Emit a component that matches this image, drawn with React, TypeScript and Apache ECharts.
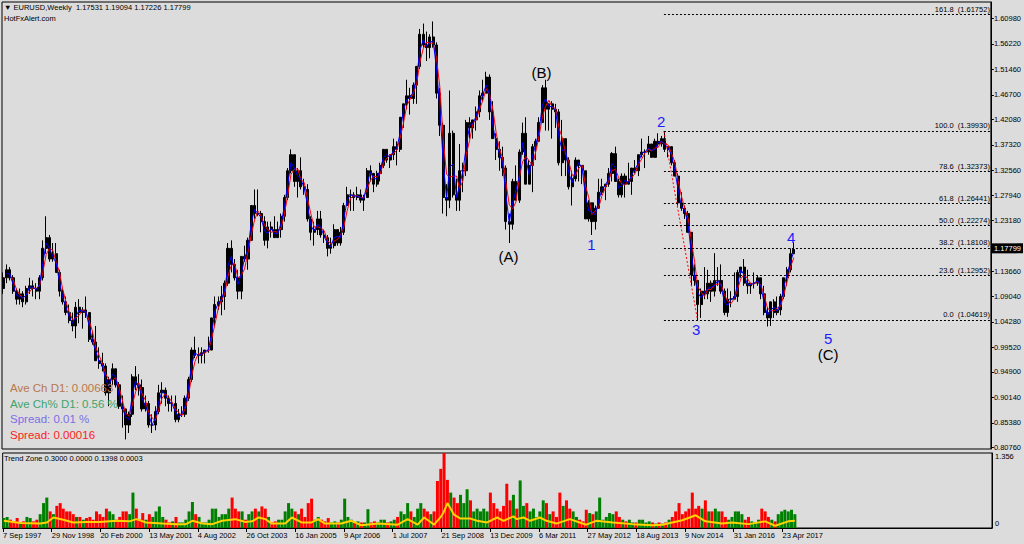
import React, { useEffect, useRef } from 'react';
import * as echarts from 'echarts';

// ---------- data ----------
const START_YEAR = 1997;
const START_MONTH = 9; // first candle: September 1997 (monthly sampling of the weekly chart)
const FIRST_OPEN = 1.105;

const HIGHS = [
  1.135, 1.150, 1.145, 1.130,
  1.105, 1.105, 1.100, 1.110, 1.125, 1.120, 1.115, 1.130, 1.195, 1.240, 1.205, 1.190,
  1.190, 1.140, 1.105, 1.090, 1.075, 1.060, 1.080, 1.085, 1.070, 1.090, 1.060, 1.025,
  1.035, 0.995, 0.985, 0.965, 0.940, 0.965, 0.955, 0.930, 0.905, 0.880, 0.875, 0.945,
  0.960, 0.945, 0.935, 0.905, 0.895, 0.870, 0.885, 0.925, 0.930, 0.920, 0.905, 0.905,
  0.905, 0.880, 0.885, 0.905, 0.940, 0.995, 1.015, 0.995, 0.995, 0.990, 1.015, 1.050,
  1.090, 1.090, 1.110, 1.120, 1.190, 1.195, 1.160, 1.140, 1.165, 1.185, 1.200, 1.260,
  1.290, 1.290, 1.250, 1.240, 1.230, 1.230, 1.240, 1.230, 1.245, 1.280, 1.330, 1.365,
  1.355, 1.330, 1.350, 1.310, 1.300, 1.240, 1.230, 1.250, 1.250, 1.215, 1.205, 1.200,
  1.225, 1.215, 1.220, 1.265, 1.295, 1.290, 1.285, 1.295, 1.290, 1.280, 1.330, 1.335,
  1.320, 1.325, 1.340, 1.365, 1.365, 1.355, 1.385, 1.380, 1.425, 1.450, 1.495, 1.480,
  1.490, 1.520, 1.590, 1.600, 1.585, 1.580, 1.604, 1.565, 1.480, 1.415, 1.300, 1.475,
  1.400, 1.310, 1.375, 1.340, 1.420, 1.425, 1.420, 1.445, 1.475, 1.495, 1.510, 1.505,
  1.455, 1.395, 1.380, 1.370, 1.335, 1.245, 1.310, 1.335, 1.365, 1.415, 1.425, 1.345,
  1.375, 1.385, 1.425, 1.485, 1.495, 1.450, 1.455, 1.450, 1.440, 1.420, 1.385, 1.350,
  1.325, 1.350, 1.345, 1.335, 1.325, 1.270, 1.265, 1.260, 1.310, 1.310, 1.300, 1.330,
  1.360, 1.370, 1.310, 1.320, 1.320, 1.340, 1.330, 1.345, 1.355, 1.385, 1.365, 1.390,
  1.375, 1.385, 1.395, 1.390, 1.3993, 1.370, 1.370, 1.345, 1.320, 1.285, 1.260, 1.250,
  1.210, 1.150, 1.120, 1.105, 1.145, 1.140, 1.120, 1.171, 1.145, 1.150, 1.105, 1.105,
  1.100, 1.135, 1.140, 1.145, 1.160, 1.140, 1.115, 1.135, 1.130, 1.125, 1.110, 1.070,
  1.080, 1.085, 1.090, 1.095, 1.125, 1.145, 1.180, 1.191,
];

const LOWS = [
  1.095, 1.115, 1.120, 1.095,
  1.075, 1.075, 1.070, 1.075, 1.095, 1.090, 1.085, 1.085, 1.120, 1.170, 1.155, 1.155,
  1.135, 1.090, 1.075, 1.055, 1.040, 1.025, 1.012, 1.040, 1.030, 1.050, 1.005, 1.000,
  0.970, 0.955, 0.950, 0.905, 0.885, 0.925, 0.920, 0.880, 0.845, 0.823, 0.835, 0.865,
  0.915, 0.905, 0.875, 0.875, 0.845, 0.835, 0.840, 0.870, 0.890, 0.885, 0.875, 0.875,
  0.855, 0.855, 0.865, 0.865, 0.895, 0.930, 0.975, 0.965, 0.965, 0.965, 0.985, 0.990,
  1.035, 1.065, 1.055, 1.065, 1.110, 1.135, 1.120, 1.085, 1.085, 1.155, 1.140, 1.195,
  1.235, 1.240, 1.210, 1.185, 1.180, 1.200, 1.200, 1.200, 1.200, 1.230, 1.270, 1.320,
  1.295, 1.275, 1.290, 1.280, 1.230, 1.195, 1.185, 1.205, 1.200, 1.190, 1.165, 1.170,
  1.180, 1.185, 1.185, 1.205, 1.260, 1.250, 1.250, 1.270, 1.265, 1.250, 1.275, 1.305,
  1.285, 1.295, 1.305, 1.330, 1.340, 1.330, 1.345, 1.335, 1.360, 1.405, 1.440, 1.430,
  1.450, 1.450, 1.515, 1.555, 1.530, 1.535, 1.555, 1.460, 1.390, 1.245, 1.240, 1.255,
  1.275, 1.250, 1.250, 1.285, 1.315, 1.385, 1.385, 1.400, 1.425, 1.455, 1.470, 1.420,
  1.385, 1.345, 1.325, 1.315, 1.215, 1.190, 1.215, 1.270, 1.265, 1.355, 1.300, 1.300,
  1.285, 1.345, 1.380, 1.415, 1.400, 1.400, 1.385, 1.405, 1.335, 1.315, 1.315, 1.290,
  1.260, 1.305, 1.305, 1.300, 1.235, 1.230, 1.205, 1.215, 1.255, 1.280, 1.270, 1.295,
  1.305, 1.305, 1.275, 1.275, 1.275, 1.305, 1.280, 1.320, 1.315, 1.350, 1.330, 1.355,
  1.350, 1.350, 1.370, 1.370, 1.360, 1.350, 1.335, 1.315, 1.260, 1.250, 1.235, 1.210,
  1.110, 1.110, 1.0462, 1.050, 1.085, 1.085, 1.080, 1.090, 1.110, 1.095, 1.055, 1.052,
  1.070, 1.085, 1.080, 1.125, 1.110, 1.095, 1.095, 1.105, 1.110, 1.085, 1.055, 1.034,
  1.035, 1.050, 1.055, 1.055, 1.085, 1.110, 1.135, 1.170,
];

const CLOSES = [
  1.125, 1.140, 1.125, 1.100,
  1.085, 1.095, 1.080, 1.105, 1.110, 1.105, 1.100, 1.125, 1.180, 1.200, 1.160, 1.170,
  1.135, 1.100, 1.080, 1.060, 1.045, 1.035, 1.070, 1.060, 1.065, 1.060, 1.010, 1.005,
  0.970, 0.965, 0.960, 0.910, 0.935, 0.955, 0.925, 0.885, 0.880, 0.850, 0.870, 0.940,
  0.925, 0.920, 0.880, 0.890, 0.850, 0.850, 0.875, 0.910, 0.915, 0.900, 0.890, 0.890,
  0.860, 0.870, 0.870, 0.900, 0.935, 0.990, 0.980, 0.980, 0.985, 0.990, 0.990, 1.050,
  1.075, 1.080, 1.090, 1.115, 1.180, 1.150, 1.125, 1.100, 1.165, 1.160, 1.195, 1.260,
  1.245, 1.245, 1.230, 1.195, 1.220, 1.215, 1.200, 1.215, 1.240, 1.275, 1.325, 1.355,
  1.305, 1.325, 1.295, 1.290, 1.235, 1.210, 1.215, 1.235, 1.205, 1.200, 1.180, 1.185,
  1.215, 1.190, 1.210, 1.260, 1.280, 1.280, 1.275, 1.280, 1.270, 1.275, 1.325, 1.320,
  1.300, 1.320, 1.335, 1.365, 1.345, 1.355, 1.370, 1.365, 1.425, 1.450, 1.465, 1.460,
  1.485, 1.520, 1.580, 1.560, 1.555, 1.575, 1.560, 1.470, 1.410, 1.275, 1.270, 1.395,
  1.280, 1.270, 1.325, 1.325, 1.415, 1.405, 1.420, 1.435, 1.465, 1.470, 1.500, 1.435,
  1.385, 1.365, 1.350, 1.330, 1.230, 1.225, 1.305, 1.270, 1.360, 1.395, 1.300, 1.335,
  1.370, 1.380, 1.415, 1.480, 1.440, 1.450, 1.440, 1.435, 1.340, 1.385, 1.345, 1.295,
  1.310, 1.345, 1.335, 1.325, 1.235, 1.265, 1.230, 1.255, 1.285, 1.295, 1.300, 1.320,
  1.357, 1.305, 1.280, 1.315, 1.300, 1.305, 1.330, 1.325, 1.355, 1.360, 1.360, 1.375,
  1.350, 1.380, 1.375, 1.385, 1.365, 1.370, 1.340, 1.315, 1.265, 1.255, 1.245, 1.210,
  1.130, 1.120, 1.075, 1.100, 1.095, 1.115, 1.100, 1.120, 1.120, 1.100, 1.060, 1.085,
  1.085, 1.090, 1.135, 1.145, 1.115, 1.110, 1.115, 1.115, 1.125, 1.095, 1.060, 1.050,
  1.080, 1.060, 1.065, 1.090, 1.125, 1.140, 1.170, 1.178,
];

// "Trend Zone" histogram, one value per month
const TREND_ZONE = [
  0.18, 0.20, 0.15, 0.12, 0.18, 0.10, 0.12, 0.20, 0.18, 0.12,
  0.15, 0.25, 0.45, 0.55, 0.30, 0.25, 0.40, 0.45, 0.35, 0.30,
  0.30, 0.25, 0.20, 0.20, 0.15, 0.18, 0.20, 0.15, 0.30, 0.25,
  0.20, 0.35, 0.30, 0.25, 0.15, 0.20, 0.30, 0.30, 0.25, 0.64,
  0.35, 0.15, 0.27, 0.15, 0.25, 0.20, 0.30, 0.39, 0.20, 0.15,
  0.10, 0.12, 0.20, 0.10, 0.10, 0.15, 0.30, 0.47, 0.25, 0.20,
  0.10, 0.10, 0.15, 0.35, 0.35, 0.20, 0.25, 0.25, 0.35, 0.55,
  0.35, 0.30, 0.30, 0.15, 0.25, 0.30, 0.35, 0.30, 0.39, 0.35,
  0.20, 0.10, 0.12, 0.15, 0.15, 0.30, 0.45, 0.35, 0.30, 0.25,
  0.35, 0.20, 0.45, 0.53, 0.15, 0.20, 0.15, 0.12, 0.18, 0.10,
  0.12, 0.10, 0.15, 0.53, 0.20, 0.15, 0.10, 0.12, 0.10, 0.10,
  0.34, 0.10, 0.12, 0.10, 0.15, 0.15, 0.10, 0.12, 0.15, 0.20,
  0.30, 0.25, 0.45, 0.30, 0.20, 0.35, 0.45, 0.35, 0.30, 0.25,
  0.30, 0.85, 1.07, 1.356, 0.87, 0.64, 0.55, 0.45, 0.60, 0.45,
  0.70, 0.50, 0.30, 0.35, 0.30, 0.35, 0.30, 0.64, 0.45, 0.35,
  0.30, 0.40, 0.80, 0.50, 0.60, 0.35, 0.86, 0.40, 0.45, 0.30,
  0.35, 0.20, 0.30, 0.50, 0.45, 0.25, 0.30, 0.20, 0.64, 0.40,
  0.50, 0.35, 0.30, 0.20, 0.15, 0.12, 0.33, 0.27, 0.25, 0.30,
  0.55, 0.15, 0.20, 0.27, 0.25, 0.30, 0.20, 0.15, 0.12, 0.15,
  0.10, 0.10, 0.15, 0.15, 0.10, 0.12, 0.10, 0.08, 0.10, 0.08,
  0.10, 0.15, 0.20, 0.30, 0.45, 0.25, 0.30, 0.35, 0.64, 0.35,
  0.40, 0.35, 0.50, 0.30, 0.30, 0.35, 0.30, 0.30, 0.20, 0.15,
  0.20, 0.30, 0.30, 0.25, 0.15, 0.20, 0.12, 0.10, 0.15, 0.35,
  0.30, 0.20, 0.15, 0.12, 0.25, 0.30, 0.33, 0.30, 0.33, 0.25,
];

// yellow signal line of the Trend Zone window: [month index, value]
const TREND_LINE = [
  [0, 0.13], [5, 0.09], [11, 0.08], [13, 0.10], [15, 0.19], [18, 0.15], [21, 0.10], [25, 0.11],
  [29, 0.11], [34, 0.13], [38, 0.12], [40, 0.16], [43, 0.10], [48, 0.08], [52, 0.07], [55, 0.07],
  [57, 0.13], [60, 0.08], [63, 0.07], [66, 0.13], [70, 0.16], [73, 0.11], [75, 0.12], [77, 0.19],
  [79, 0.16], [81, 0.08], [85, 0.08], [87, 0.19], [90, 0.10], [93, 0.10], [95, 0.16], [97, 0.08],
  [102, 0.08], [105, 0.13], [108, 0.05], [113, 0.08], [119, 0.06], [122, 0.16], [125, 0.06],
  [127, 0.19], [130, 0.06], [132, 0.20], [133, 0.30], [134, 0.45], [136, 0.24], [138, 0.17],
  [141, 0.17], [143, 0.13], [146, 0.10], [149, 0.19], [151, 0.13], [154, 0.21], [155, 0.16],
  [157, 0.19], [159, 0.13], [162, 0.19], [164, 0.13], [167, 0.08], [171, 0.16], [174, 0.10],
  [176, 0.06], [179, 0.13], [184, 0.10], [190, 0.07], [196, 0.05], [199, 0.06], [202, 0.10],
  [205, 0.14], [209, 0.23], [212, 0.12], [217, 0.08], [220, 0.10], [225, 0.07], [230, 0.12],
  [233, 0.04], [237, 0.12], [239, 0.13],
];

const LAST_BAR = [1.17531, 1.19094, 1.17226, 1.17799];
const SYMBOL = 'EURUSD,Weekly';

const Y_TICKS = [
  1.6098, 1.5622, 1.5146, 1.467, 1.4208, 1.3732, 1.3256, 1.2794, 1.2318,
  1.1842, 1.1366, 1.0904, 1.0428, 0.9952, 0.949, 0.9014, 0.8538, 0.8076,
];
const X_TICKS = [
  '1997-09-07', '1998-11-29', '2000-02-20', '2001-05-13', '2002-08-04', '2003-10-26',
  '2005-01-16', '2006-04-09', '2007-07-01', '2008-09-21', '2009-12-13', '2011-03-06',
  '2012-05-27', '2013-08-18', '2014-11-09', '2016-01-31', '2017-04-23',
];
const X_MIN = '1997-09-04';
const X_MAX = '2022-08-02';
const Y_MIN = 0.8051;
const Y_MAX = 1.6403;
const SUB_MAX = 1.356;

const FIB_PCT = ['0.0', '23.6', '38.2', '50.0', '61.8', '78.6', '100.0', '161.8'];
const FIB_VALUES = [1.04619, 1.12952, 1.18108, 1.22274, 1.26441, 1.32373, 1.3993, 1.61752];
const FIB_FROM = '2014-05-08';

const WAVE_LINE = [['2014-05-08', 1.3993], ['2015-03-13', 1.0462]];
const WAVES_MINOR = [
  ['1', '2012-07-09', 1.1863],
  ['2', '2014-04-13', 1.4161],
  ['3', '2015-03-01', 1.0275],
  ['4', '2017-07-21', 1.2012],
  ['5', '2018-06-26', 1.0107],
];
const WAVES_MAJOR = [
  ['(A)', '2010-06-07', 1.1639],
  ['(B)', '2011-04-07', 1.5095],
  ['(C)', '2018-06-26', 0.9808],
];

const INFO_LINES = [
  'Ave Ch D1: 0.00663',
  'Ave Ch% D1: 0.56 %',
  'Spread: 0.01 %',
  'Spread: 0.00016',
];
const TREND_TITLE = 'Trend Zone 0.3000 0.0000 0.1398 0.0003';
const SITE = 'HotFxAlert.com';

// ---------- helpers ----------
const BG = '#dcdcdc';
const FONT = 'Liberation Sans';
const INFO_COLORS = ['#b8784c', '#3ca46c', '#7c6ee6', '#ff2020'];
const MON = ['Jan', 'Feb', 'Mar', 'Apr', 'May', 'Jun', 'Jul', 'Aug', 'Sep', 'Oct', 'Nov', 'Dec'];
const CLEAR = 'rgba(0,0,0,0)';

const ts = (s: string) => {
  const [y, m, d] = s.split('-').map(Number);
  return new Date(y, m - 1, d).getTime();
};
const monthTs = (i: number) => new Date(START_YEAR, START_MONTH - 1 + i, 15).getTime();
const opens = CLOSES.map((_, i) => (i === 0 ? FIRST_OPEN : CLOSES[i - 1]));

const sma = (n: number) =>
  CLOSES.map((_, i) => {
    if (i < n - 1) return [monthTs(i), null];
    let s = 0;
    for (let k = i - n + 1; k <= i; k++) s += CLOSES[k];
    return [monthTs(i), s / n];
  });

function buildOption() {
  const xMin = ts(X_MIN);
  const xMax = ts(X_MAX);
  const xTicks = X_TICKS.map(ts);

  const candles = CLOSES.map((c, i) => [monthTs(i), opens[i], c, LOWS[i], HIGHS[i]]);
  const hist = TREND_ZONE.map((v, i) => ({
    value: [monthTs(i), v],
    itemStyle: { color: CLOSES[i] >= opens[i] ? '#008000' : '#ff0000' },
  }));
  const yellow = TREND_LINE.map(([m, v]) => [monthTs(m), v]);

  const fibLines = FIB_VALUES.map((v, i) => [
    { name: `${FIB_PCT[i]}  (${v.toFixed(5)})`, coord: [ts(FIB_FROM), v] },
    { coord: [xMax, v] },
  ]);

  const waveItems = [
    ...WAVES_MINOR.map(([t, d, p]) => ({
      name: t as string,
      value: [ts(d as string), p],
      label: { color: '#1c1cff' },
    })),
    ...WAVES_MAJOR.map(([t, d, p]) => ({
      name: t as string,
      value: [ts(d as string), p],
      label: { color: '#000000' },
    })),
  ];

  const header = `\u25BC ${SYMBOL}  ${LAST_BAR.map((v) => v.toFixed(5)).join(' ')}`;

  const graphics: any[] = [
    { type: 'text', x: 4, y: 7, z: 100, style: { text: header, fill: '#000', fontSize: 7.5, fontFamily: FONT, verticalAlign: 'middle' } },
    { type: 'text', x: 4, y: 18, z: 100, style: { text: SITE, fill: '#000', fontSize: 7.5, fontFamily: FONT, verticalAlign: 'middle' } },
    { type: 'text', x: 4, y: 458, z: 100, style: { text: TREND_TITLE, fill: '#000', fontSize: 7.5, fontFamily: FONT, verticalAlign: 'middle' } },
    ...INFO_LINES.map((t, i) => ({
      type: 'text',
      x: 10,
      y: 388 + i * 15.7,
      z: 100,
      style: { text: t, fill: INFO_COLORS[i], fontSize: 11.5, fontFamily: FONT, verticalAlign: 'middle' },
    })),
  ];

  return {
    animation: false,
    backgroundColor: BG,
    textStyle: { fontFamily: FONT },
    grid: [
      { left: 2, top: 2, width: 990, height: 447, show: true, borderColor: '#000', borderWidth: 1 },
      { left: 2, top: 453, width: 990, height: 75, show: true, borderColor: '#000', borderWidth: 1 },
    ],
    xAxis: [
      { type: 'value', gridIndex: 0, min: xMin, max: xMax, show: false, splitLine: { show: false } },
      {
        type: 'value',
        gridIndex: 1,
        min: xMin,
        max: xMax,
        axisLine: { show: true, lineStyle: { color: '#000', width: 1 } },
        axisTick: { show: true, customValues: xTicks, length: 4, lineStyle: { color: '#000' } },
        axisLabel: {
          customValues: xTicks,
          align: 'left',
          margin: 3,
          fontSize: 7.5,
          color: '#000',
          fontFamily: FONT,
          formatter: (v: number) => {
            const d = new Date(v);
            return `${d.getDate()} ${MON[d.getMonth()]} ${d.getFullYear()}`;
          },
        },
        splitLine: { show: false },
      },
    ],
    yAxis: [
      {
        type: 'value',
        gridIndex: 0,
        position: 'right',
        min: Y_MIN,
        max: Y_MAX,
        axisLine: { show: true, lineStyle: { color: '#000' } },
        axisTick: { show: true, customValues: Y_TICKS, length: 3, lineStyle: { color: '#000' } },
        axisLabel: {
          customValues: Y_TICKS,
          formatter: (v: number) => v.toFixed(5),
          fontSize: 7.5,
          color: '#000',
          margin: 3,
          fontFamily: FONT,
        },
        splitLine: { show: false },
      },
      {
        type: 'value',
        gridIndex: 1,
        position: 'right',
        min: 0,
        max: SUB_MAX,
        axisLine: { show: true, lineStyle: { color: '#000' } },
        axisTick: { show: false },
        axisLabel: {
          customValues: [0, SUB_MAX],
          fontSize: 7.5,
          color: '#000',
          margin: 3,
          fontFamily: FONT,
          formatter: (v: number) => (v > 0 ? `{t|${SUB_MAX}}` : '{b|0}'),
          rich: {
            t: { fontSize: 7.5, padding: [7, 0, 0, 0], fontFamily: FONT, color: '#000' },
            b: { fontSize: 7.5, padding: [0, 0, 10, 0], fontFamily: FONT, color: '#000' },
          },
        },
        splitLine: { show: false },
      },
    ],
    series: [
      {
        type: 'candlestick',
        xAxisIndex: 0,
        yAxisIndex: 0,
        data: candles,
        encode: { x: 0, y: [1, 2, 3, 4] },
        barWidth: 2.6,
        itemStyle: { color: '#000', color0: '#000', borderColor: '#000', borderColor0: '#000', borderWidth: 1 },
        markLine: {
          silent: true,
          symbol: ['none', 'none'],
          lineStyle: { color: CLEAR, width: 1, type: 'solid' },
          label: {
            show: true,
            position: 'end',
            formatter: '{b}',
            backgroundColor: '#000',
            color: '#fff',
            fontSize: 7.5,
            fontFamily: FONT,
            padding: [1, 2, 1, 2],
            distance: 1,
          },
          data: [{ name: LAST_BAR[3].toFixed(5), yAxis: LAST_BAR[3] }],
        },
      },
      {
        type: 'line',
        xAxisIndex: 0,
        yAxisIndex: 0,
        data: sma(3),
        showSymbol: false,
        lineStyle: { color: '#ff0000', width: 1 },
      },
      {
        type: 'line',
        xAxisIndex: 0,
        yAxisIndex: 0,
        data: sma(2),
        showSymbol: false,
        lineStyle: { color: '#0000ff', width: 1 },
      },
      {
        type: 'line',
        xAxisIndex: 0,
        yAxisIndex: 0,
        data: WAVE_LINE.map(([d, v]) => [ts(d as string), v]),
        showSymbol: false,
        lineStyle: { color: '#ff0000', width: 1, type: [2, 2] },
        markLine: {
          silent: true,
          symbol: ['none', 'none'],
          lineStyle: { color: '#000', width: 1, type: [2, 2] },
          label: {
            show: true,
            position: 'insideEndTop',
            formatter: '{b}',
            fontSize: 7.5,
            fontFamily: FONT,
            color: '#000',
            distance: 1,
          },
          data: fibLines,
        },
      },
      {
        type: 'scatter',
        xAxisIndex: 0,
        yAxisIndex: 0,
        data: waveItems,
        symbolSize: 2,
        itemStyle: { color: CLEAR, opacity: 1 },
        z: 10,
        label: {
          show: true,
          position: 'inside',
          formatter: '{b}',
          fontSize: 15,
          fontFamily: FONT,
          opacity: 1,
        },
      },
      {
        type: 'bar',
        xAxisIndex: 1,
        yAxisIndex: 1,
        data: hist,
        barWidth: 3,
      },
      {
        type: 'line',
        xAxisIndex: 1,
        yAxisIndex: 1,
        data: yellow,
        showSymbol: false,
        lineStyle: { color: '#ffd200', width: 2 },
      },
    ],
    graphic: graphics,
  };
}

export default function App() {
  const ref = useRef<HTMLDivElement>(null);
  useEffect(() => {
    document.body.style.margin = '0';
    const chart = echarts.init(ref.current as HTMLDivElement, null, { renderer: 'svg' });
    chart.setOption(buildOption() as any);
    return () => chart.dispose();
  }, []);
  return (
    <div
      ref={ref}
      style={{ position: 'fixed', left: 0, top: 0, width: 1024, height: 544 }}
    />
  );
}
